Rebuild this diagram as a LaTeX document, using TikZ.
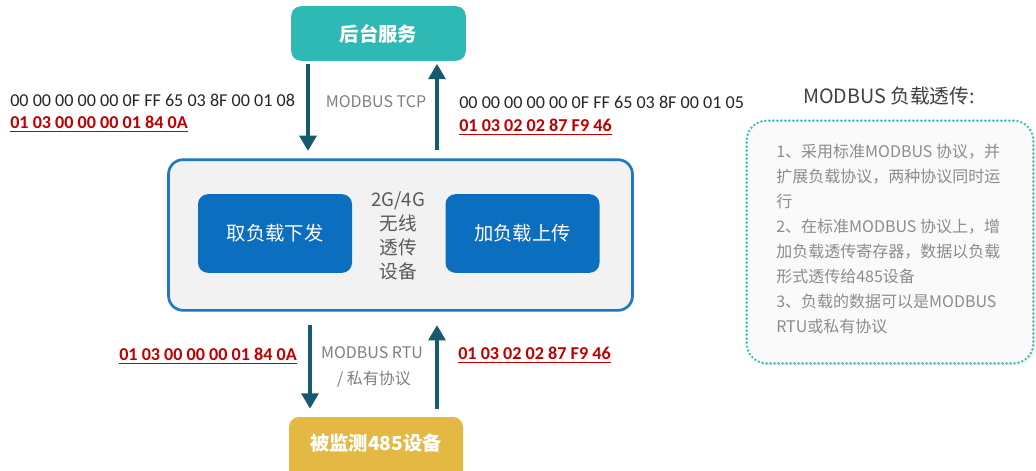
\documentclass[tikz,border=0pt]{standalone}
\usepackage{fontspec}
\setmainfont{Carlito}
\newfontfamily\cjk{Noto Sans CJK SC}
\usetikzlibrary{arrows.meta,shadows,calc}
\definecolor{teal1}{HTML}{2EB9B5}
\definecolor{gold1}{HTML}{E3B944}
\definecolor{blue1}{HTML}{0B6EBE}
\definecolor{border1}{HTML}{1E78C6}
\definecolor{arrowc}{HTML}{17596E}
\definecolor{red1}{HTML}{C00000}
\definecolor{dot1}{HTML}{2FBFB0}
\begin{document}
\begin{tikzpicture}[x=0.75pt,y=-0.75pt,
  titlebox/.style={draw=none,rounded corners=7.5pt,text=white,font=\cjk\bfseries\fontsize{14.5pt}{17pt}\selectfont,inner sep=0pt},
  innerbox/.style={draw=none,fill=blue1,rounded corners=7.5pt,text=white,font=\cjk\fontsize{14.5pt}{17pt}\selectfont,minimum width=115.5pt,minimum height=59pt,inner sep=0pt},
  flow/.style={draw=arrowc,line width=3pt,-{Triangle[width=12.5pt,length=11.5pt]}},
  hexblack/.style={anchor=west,inner sep=0pt,text=black!85,font=\fontsize{13.6pt}{15pt}\selectfont},
  hexred/.style={anchor=west,inner sep=0pt,text=red1,font=\bfseries\fontsize{13.6pt}{15pt}\selectfont},
  graylabel/.style={inner sep=0pt,text=black!50,font=\cjk\fontsize{12pt}{14pt}\selectfont},
  uline/.style={draw=red1,line width=1pt}
]
\useasboundingbox (0,0) rectangle (1036,471);
\fill[white] (0,0) rectangle (1036,471);
\clip (0,0) rectangle (1036,471);

% top and bottom boxes
\node[titlebox,fill=teal1,minimum width=131pt,minimum height=41pt] (top) at (378.5,33.5) {后台服务};
\node[titlebox,fill=gold1,minimum width=130.5pt,minimum height=48pt] (bot) at (376,449) {};
\node[inner sep=0pt,text=white,font=\cjk\bfseries\fontsize{14.5pt}{17pt}\selectfont] (botlabel) at (376,443) {被监测485设备};

% main box
\node[draw=border1,line width=2pt,fill=black!5,rounded corners=11pt,minimum width=348pt,minimum height=113pt,inner sep=0pt,
      drop shadow={opacity=0.15,shadow xshift=1pt,shadow yshift=-1pt}] (main) at (400.5,235) {};
\node[innerbox] (left) at (275,233.5) {取负载下发};
\node[innerbox] (right) at (522.5,233.5) {加负载上传};
\node[inner sep=0pt,align=center,text=black!65,font=\cjk\fontsize{14pt}{18pt}\selectfont] (mid) at (398,236) {2G/4G\\无线\\透传\\设备};

% arrow guide coordinates
\coordinate (xl) at (308,0);
\coordinate (xr) at (437,0);
\coordinate (xbl) at (310,0);

\draw[flow,shorten <=2pt,shorten >=5.5pt] (top.south -| xl) -- (main.north -| xl);
\draw[flow,shorten <=6.5pt,shorten >=2pt] (main.north -| xr) -- (top.south -| xr);
\draw[flow,shorten <=10pt,shorten >=6pt] (main.south -| xbl) -- (bot.north -| xbl);
\draw[flow,shorten <=6pt,shorten >=10pt] (bot.north -| xr) -- (main.south -| xr);

% labels on arrows
\node[graylabel] (tcp) at (376,102) {MODBUS TCP};
\node[graylabel] (rtu) at (372,353) {MODBUS RTU};
\node[graylabel] (priv) at (374,379) {/ 私有协议};

% hex texts
\node[hexblack] (h1) at (10,100) {00 00 00 00 00 0F FF 65 03 8F 00 01 08};
\node[hexred] (r1) at (10,122) {01 03 00 00 00 01 84 0A};
\draw[uline] ([yshift=-2pt]r1.south west) -- ([yshift=-2pt]r1.south east);
\node[hexblack] (h2) at (459,102) {00 00 00 00 00 0F FF 65 03 8F 00 01 05};
\node[hexred] (r2) at (459,125) {01 03 02 02 87 F9 46};
\draw[uline] ([yshift=-2pt]r2.south west) -- ([yshift=-2pt]r2.south east);
\node[hexred] (r3) at (119,354) {01 03 00 00 00 01 84 0A};
\draw[uline] ([yshift=-2pt]r3.south west) -- ([yshift=-2pt]r3.south east);
\node[hexred] (r4) at (458,353) {01 03 02 02 87 F9 46};
\draw[uline] ([yshift=-2pt]r4.south west) -- ([yshift=-2pt]r4.south east);

% right panel
\node[inner sep=0pt,text=black!75,font=\cjk\fontsize{14.8pt}{17pt}\selectfont] (ptitle) at (889,96) {MODBUS 负载透传:};
\node[draw=dot1,line width=2pt,dash pattern=on 0pt off 3pt,line cap=round,fill=black!2,rounded corners=15pt,
      minimum width=215pt,minimum height=182pt,inner sep=0pt,
      drop shadow={opacity=0.12,shadow xshift=1.5pt,shadow yshift=-1.5pt}] (panel) at (890,242) {};
\node[anchor=north west,inner sep=0pt,align=left,text=black!45,font=\cjk\fontsize{12pt}{18.7pt}\selectfont] (ptext) at (776,144)
 {1、采用标准MODBUS 协议，并\\扩展负载协议，两种协议同时运\\行\\2、在标准MODBUS 协议上，增\\加负载透传寄存器，数据以负载\\形式透传给485设备\\3、负载的数据可以是MODBUS\\RTU或私有协议};
\end{tikzpicture}
\end{document}
